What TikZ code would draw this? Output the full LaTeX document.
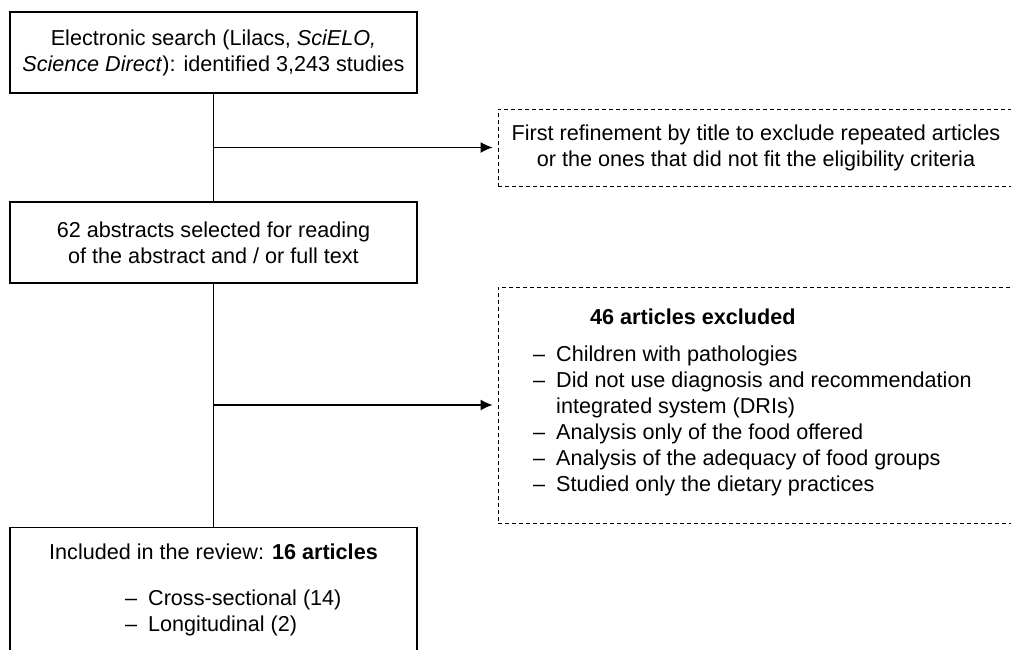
\documentclass[tikz,border=0pt]{standalone}
\usepackage{fontspec}
\setmainfont{Liberation Sans}
\usetikzlibrary{arrows.meta}

\begin{document}
\begin{tikzpicture}[x=1pt, y=-1pt,
			>={Latex[length=12pt,width=11pt]},   %Pfeilspitzen
			box/.style={draw, line width=1.3pt, minimum width=407pt, minimum height=81pt, align=center, inner sep=0pt},
			dbox/.style={draw, line width=0.9pt, dash pattern=on 4pt off 3pt, minimum width=516pt, inner sep=0pt, align=center},
			txt/.style={inner sep=0pt, align=left},
			font=\fontsize{21.6}{26}\selectfont]
			% Bildbereich
			\useasboundingbox (0,0) rectangle (1011,649);
			\clip (0,0) rectangle (1011,649);
			% Kaesten
			\node[box] (search) at (213.5,52.5) {Electronic search (Lilacs, \textit{SciELO,}\\ \textit{Science Direct}): identified 3,243 studies};
			\node[box] (abstracts) at (213.5,242.5) {62 abstracts selected for reading\\ of the abstract and / or full text};
			\node[box, minimum height=150pt, anchor=north] (included) at (213.5,527) {};
			\node[dbox, minimum height=77pt] (refine) at (756,147.5) {First refinement by title to exclude repeated articles\\ or the ones that did not fit the eligibility criteria};
			\node[dbox, minimum height=236pt] (excluded) at (756,405) {};
			% Texte in den Kaesten
			\node[txt, anchor=west] (exclhead) at (590,317) {\textbf{46 articles excluded}};
			\node[txt, anchor=west] (excllist) at (533,421) {\makebox[23pt][l]{--}Children with pathologies\\
				\makebox[23pt][l]{--}Did not use diagnosis and recommendation\\
				\hspace*{23pt}integrated system (DRIs)\\
				\makebox[23pt][l]{--}Analysis only of the food offered\\
				\makebox[23pt][l]{--}Analysis of the adequacy of food groups\\
				\makebox[23pt][l]{--}Studied only the dietary practices};
			\node[txt] (inclhead) at (213.5,552) {Included in the review: \textbf{16 articles}};
			\node[txt, anchor=west] (incllist) at (125,612.5) {\makebox[23pt][l]{--}Cross-sectional (14)\\
				\makebox[23pt][l]{--}Longitudinal (2)};
			% Verbindungen
			\draw[line width=1.3pt] (search) -- (abstracts);
			\draw[line width=1.3pt] (abstracts) -- (included);
			\coordinate (j1) at (search.south |- refine.west);
			\coordinate (j2) at (abstracts.south |- excluded.west);
			\draw[->, line width=1.3pt, shorten >=5pt] (j1) -- (refine);
			\draw[->, line width=1.3pt, shorten >=5pt] (j2) -- (excluded);
		\end{tikzpicture}
\end{document}
